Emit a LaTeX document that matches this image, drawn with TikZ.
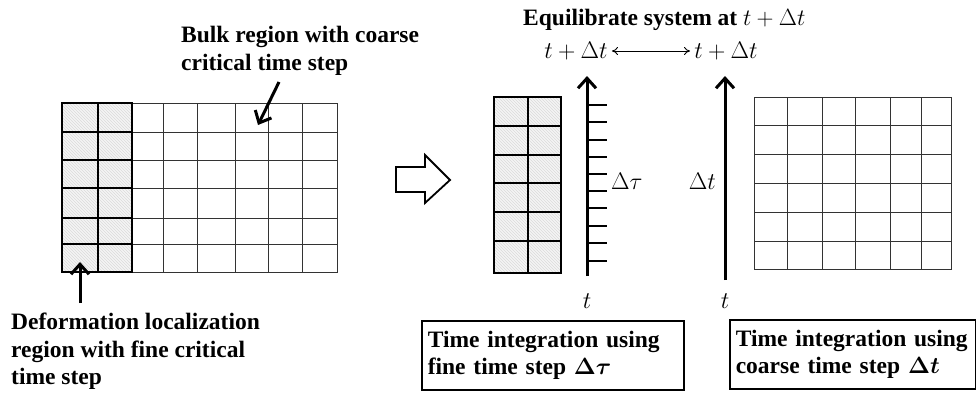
\RequirePackage{fix-cm}
\documentclass[tikz,border=0pt]{standalone}
\usepackage{amsmath,bm}
\usepackage{fontspec}
\setmainfont{Liberation Serif}
\usetikzlibrary{arrows.meta,patterns}
\begin{document}
\begin{tikzpicture}[x=1pt,y=-1pt,
  lbl/.style={font=\bfseries\fontsize{23.5}{27.5}\selectfont, align=left, inner sep=0pt},
  mth/.style={font=\fontsize{24}{28}\selectfont, inner sep=0pt},
  thin grid/.style={line width=0.9pt, black!80},
  thick grid/.style={line width=2.2pt},
  hatch/.style={fill=gray!8, postaction={pattern=north west lines, pattern color=gray!28}},
  bigarrow/.style={line width=3pt, -{Straight Barb[length=10pt,width=18pt,line width=3pt]}},
  boxed/.style={draw, line width=1.5pt, minimum height=69pt, inner sep=0pt}]
\useasboundingbox (0,0) rectangle (976,394);

% ---------- left mesh ----------
\fill[hatch] (62,103) rectangle (132,272);
\foreach \x in {163,197,235,268,302} \draw[thin grid] (\x,103) -- (\x,272);
\foreach \y in {132,160,188,218,244} \draw[thin grid] (132,\y) -- (337,\y);
\draw[thin grid] (132,103) rectangle (337,272);
\draw[thick grid] (98,103) -- (98,272);
\foreach \y in {132,160,188,218,244} \draw[thick grid] (62,\y) -- (132,\y);
\draw[thick grid] (62,103) rectangle (132,272);

\node[lbl, anchor=north west] (bulk) at (181,26) {Bulk region with coarse\\critical time step};
\coordinate (bulkA) at (279,82);
\coordinate (bulkB) at (258,125);
\draw[bigarrow] (bulkA) -- (bulkB);

\node[lbl, anchor=north west] (deform) at (11,313) {Deformation localization\\region with fine critical\\time step};
\coordinate (defA) at (80,303);
\coordinate (defB) at (80,262);
\draw[bigarrow] (defA) -- (defB);

% ---------- hollow arrow ----------
\draw[line width=1.8pt, fill=white] (396,167) -- (425,167) -- (425,155) -- (450,180) -- (425,203) -- (425,192) -- (396,192) -- cycle;

% ---------- middle fine mesh ----------
\fill[hatch] (494,97) rectangle (561,273);
\draw[thick grid] (528,97) -- (528,273);
\foreach \y in {126,155,183,212,241} \draw[thick grid] (494,\y) -- (561,\y);
\draw[thick grid] (494,97) rectangle (561,273);

% fine time axis
\node[mth] (tf) at (587,301) {$t$};
\coordinate (fineBot) at (587,276);
\coordinate (fineTop) at (587,76);
\draw[bigarrow] (fineBot) -- (fineTop);
\foreach \y in {105,122,140,157,174,191,208,226,243,261} \draw[line width=1.4pt] (587,\y) -- (607,\y);
\node[mth, anchor=west] (dtau) at (611,181) {$\Delta\tau$};

% top labels
\node[lbl, anchor=north west] (equi) at (523,9) {Equilibrate system at $t+\Delta t$};
\node[mth] (tdl) at (576,51) {$t+\Delta t$};
\node[mth] (tdr) at (726,51) {$t+\Delta t$};
\draw[{To[length=6pt,width=8pt]}-{To[length=6pt,width=8pt]}, line width=0.9pt] ([xshift=4pt]tdl.east) -- ([xshift=-4pt]tdr.west);

% coarse time axis
\node[mth] (tc) at (725,301) {$t$};
\coordinate (coarseBot) at (725,280);
\coordinate (coarseTop) at (725,76);
\draw[bigarrow] (coarseBot) -- (coarseTop);
\node[mth, anchor=east] (dt) at (716,181) {$\Delta t$};

% right coarse mesh
\foreach \x in {787,822,855,890,921} \draw[thin grid] (\x,97) -- (\x,269);
\foreach \y in {125,154,183,212,241} \draw[thin grid] (754,\y) -- (951,\y);
\draw[thin grid] (754,97) rectangle (951,269);

% boxes
\node[boxed, lbl, anchor=north west, minimum width=262pt, text width=250pt, align=left] (finebox) at (421,320)
  {Time integration using\\fine time step $\bm{\Delta\tau}$};
\node[boxed, lbl, anchor=north west, minimum width=246pt, text width=234pt, align=left] (coarsebox) at (729,319)
  {Time integration using\\coarse time step $\bm{\Delta t}$};
\end{tikzpicture}
\end{document}
